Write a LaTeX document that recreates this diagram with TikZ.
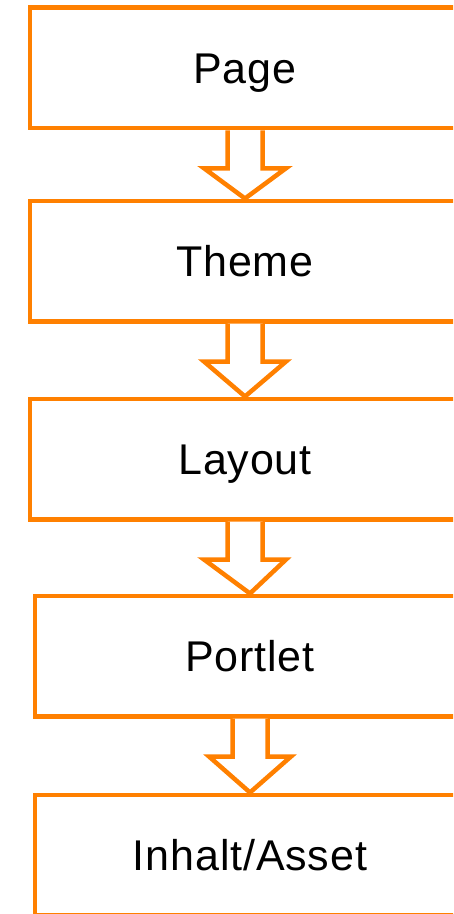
\documentclass[tikz,border=0pt]{standalone}
\usepackage{fontspec}
\setmainfont{Liberation Sans}[LetterSpace=2]
\usetikzlibrary{calc}
\definecolor{borange}{RGB}{255,128,0}
\tikzset{
  box/.style={draw=borange, line width=4.5pt, minimum width=430pt, minimum height=120.5pt,
    inner sep=0pt, font=\fontsize{43}{43}\selectfont, text height=31pt, text depth=0pt},
  hollowarrow/.style={draw=borange, line width=4.5pt, fill=white, line join=miter}
}
\newcommand{\harrow}[2]{%
  \draw[hollowarrow] ($(#1.south)+(-17.5,0)$) -- ++(0,38) -- ++(-23.5,0)
    -- (#2.north) -- ($(#1.south)+(41,38)$) -- ++(-23.5,0) -- ($(#1.south)+(17.5,0)$);
}
\begin{document}
\begin{tikzpicture}[x=1pt,y=-1pt]
\useasboundingbox (0,0) rectangle (453,914);
\clip (0,0) rectangle (453,914);
\node[box] (page) at (245,67.75) {Page};
\node[box] (theme) at (245,261) {Theme};
\node[box] (layout) at (245,459) {Layout};
\node[box] (portlet) at (250,656) {Portlet};
\node[box] (asset) at (250,855) {Inhalt/Asset};
\harrow{page}{theme}
\harrow{theme}{layout}
\harrow{layout}{portlet}
\harrow{portlet}{asset}
\end{tikzpicture}
\end{document}
